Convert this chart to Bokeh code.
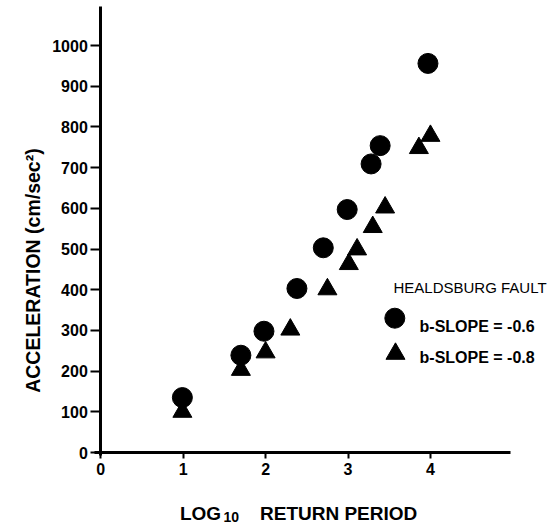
from bokeh.plotting import figure
from bokeh.models import Range1d, FixedTicker, Label
from bokeh.embed import file_html
from bokeh.resources import INLINE
import math

# ---- data ----
circ_x = [0.99, 1.70, 1.98, 2.38, 2.70, 2.99, 3.28, 3.39, 3.97]
circ_y = [135, 239, 298, 403, 503, 597, 709, 754, 956]
tri_x = [0.99, 1.70, 2.00, 2.30, 2.75, 3.01, 3.11, 3.30, 3.45, 3.86, 4.00]
tri_y = [100, 203, 246, 302, 401, 463, 499, 554, 602, 748, 778]

x_ticks = [0, 1, 2, 3, 4]
y_ticks = [0, 100, 200, 300, 400, 500, 600, 700, 800, 900, 1000]
y_tick_labels = {v: str(v) for v in y_ticks}

legend_title = "HEALDSBURG FAULT"
legend_labels = ["b-SLOPE = -0.6", "b-SLOPE = -0.8"]
y_label = "ACCELERATION (cm/sec\u00b2)"
x_label_main = "LOG"
x_label_sub = "10"
x_label_rest = "RETURN PERIOD"

FONT = "Liberation Sans"

p = figure(width=557, height=524, min_border=0, title_location=None,
           x_range=Range1d(-1.217, 5.542), y_range=Range1d(-176.9, 1110.6),
           output_backend="svg", toolbar_location=None)

p.outline_line_color = None
p.grid.visible = False
p.background_fill_color = "white"
p.border_fill_color = "white"

for ax in (p.xaxis, p.yaxis):
    ax.fixed_location = 0
    ax.axis_line_width = 3
    ax.axis_line_color = "black"
    ax.major_tick_line_width = 2
    ax.major_tick_line_color = "black"
    ax.minor_tick_line_color = None
    ax.major_tick_in = 0
    ax.major_label_text_font = FONT
    ax.major_label_text_font_style = "bold"
    ax.major_label_text_font_size = "16px"
    ax.major_label_text_color = "black"

p.xaxis.ticker = FixedTicker(ticks=x_ticks)
p.xaxis.bounds = (-0.08, 4.97)
p.xaxis.major_tick_out = 6
p.xaxis.major_label_standoff = 4
p.yaxis.ticker = FixedTicker(ticks=y_ticks)
p.yaxis.bounds = (-8, 1096)
p.yaxis.major_label_overrides = y_tick_labels
p.yaxis.major_tick_out = 10
p.yaxis.major_label_standoff = 3

# data
p.scatter(circ_x, circ_y, marker="circle", size=20, color="black")
p.scatter(tri_x, tri_y, marker="triangle", size=19, color="black")

# legend markers
p.scatter([3.568], [330], marker="circle", size=20, color="black")
p.scatter([3.576], [242.5], marker="triangle", size=19, color="black")

p.add_layout(Label(x=3.552, y=405.4, text=legend_title, text_font=FONT,
                   text_font_size="15px", text_color="black",
                   text_baseline="alphabetic"))
p.add_layout(Label(x=3.868, y=309.6, text=legend_labels[0], text_font=FONT,
                   text_font_size="16px", text_font_style="bold",
                   text_color="black", text_baseline="alphabetic"))
p.add_layout(Label(x=3.868, y=233.4, text=legend_labels[1], text_font=FONT,
                   text_font_size="16px", text_font_style="bold",
                   text_color="black", text_baseline="alphabetic"))

# axis titles
p.add_layout(Label(x=-0.817, y=447, text=y_label, angle=math.pi / 2,
                   text_font=FONT, text_font_size="19.5px",
                   text_font_style="bold", text_color="black",
                   text_align="center", text_baseline="alphabetic"))
p.add_layout(Label(x=0.96, y=-150, text=x_label_main, text_font=FONT,
                   text_font_size="19px", text_font_style="bold",
                   text_color="black", text_baseline="alphabetic"))
p.add_layout(Label(x=1.49, y=-159, text=x_label_sub, text_font=FONT,
                   text_font_size="14px", text_font_style="bold",
                   text_color="black", text_baseline="alphabetic"))
p.add_layout(Label(x=1.932, y=-150, text=x_label_rest, text_font=FONT,
                   text_font_size="19px", text_font_style="bold",
                   text_color="black", text_baseline="alphabetic"))

open("out.html", "w").write(file_html(p, INLINE))
